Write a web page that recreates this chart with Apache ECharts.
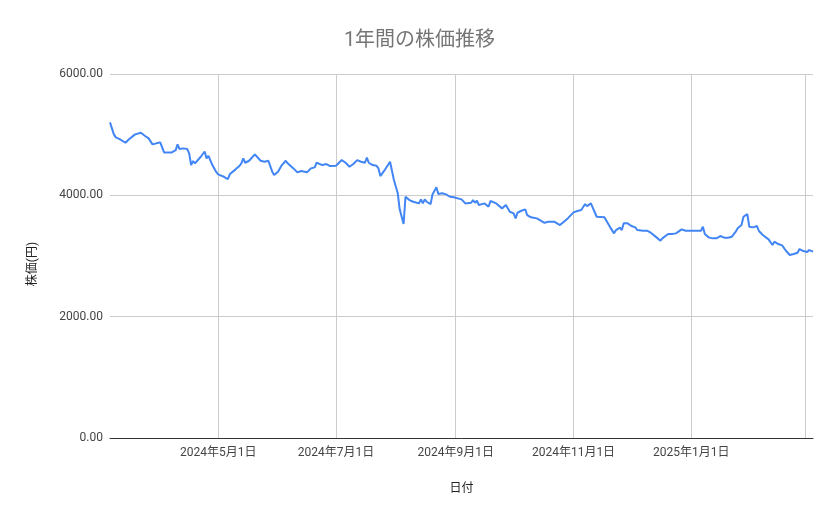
<!DOCTYPE html>
<html>
<head>
<meta charset="utf-8">
<script src="https://cdn.jsdelivr.net/npm/echarts@6/dist/echarts.min.js"></script>
<style>
html,body{margin:0;padding:0;background:#fff;}
#chart{width:839px;height:519px;}
</style>
</head>
<body>
<div id="chart"></div>
<script>
const dates = [
'2024-03-06','2024-03-07','2024-03-08','2024-03-09','2024-03-11','2024-03-12','2024-03-14','2024-03-16','2024-03-19','2024-03-20',
'2024-03-22','2024-03-24','2024-03-26','2024-03-27','2024-03-28','2024-03-30','2024-04-01','2024-04-03','2024-04-04','2024-04-07',
'2024-04-09','2024-04-10','2024-04-11','2024-04-13','2024-04-15','2024-04-16','2024-04-17','2024-04-18','2024-04-19','2024-04-22',
'2024-04-24','2024-04-25','2024-04-26','2024-04-28','2024-04-30','2024-05-01','2024-05-02','2024-05-04','2024-05-06','2024-05-07',
'2024-05-08','2024-05-10','2024-05-12','2024-05-13','2024-05-14','2024-05-15','2024-05-17','2024-05-20','2024-05-21','2024-05-23',
'2024-05-25','2024-05-27','2024-05-29','2024-05-30','2024-06-01','2024-06-03','2024-06-05','2024-06-06','2024-06-07','2024-06-09',
'2024-06-11','2024-06-13','2024-06-14','2024-06-16','2024-06-18','2024-06-20','2024-06-21','2024-06-22','2024-06-24','2024-06-26',
'2024-06-28','2024-07-01','2024-07-02','2024-07-04','2024-07-06','2024-07-08','2024-07-10','2024-07-12','2024-07-14','2024-07-16',
'2024-07-17','2024-07-18','2024-07-20','2024-07-22','2024-07-23','2024-07-24','2024-07-26','2024-07-29','2024-07-30','2024-07-31',
'2024-08-02','2024-08-03','2024-08-05','2024-08-06','2024-08-08','2024-08-10','2024-08-13','2024-08-14','2024-08-15','2024-08-16',
'2024-08-17','2024-08-19','2024-08-20','2024-08-21','2024-08-22','2024-08-23','2024-08-25','2024-08-27','2024-08-29','2024-08-31',
'2024-09-01','2024-09-04','2024-09-06','2024-09-09','2024-09-10','2024-09-11','2024-09-12','2024-09-13','2024-09-16','2024-09-17',
'2024-09-18','2024-09-19','2024-09-22','2024-09-25','2024-09-27','2024-09-29','2024-10-01','2024-10-02','2024-10-03','2024-10-05',
'2024-10-07','2024-10-08','2024-10-10','2024-10-13','2024-10-14','2024-10-17','2024-10-19','2024-10-20','2024-10-22','2024-10-23',
'2024-10-25','2024-10-27','2024-10-29','2024-11-01','2024-11-03','2024-11-05','2024-11-06','2024-11-07','2024-11-08','2024-11-10',
'2024-11-11','2024-11-13','2024-11-14','2024-11-17','2024-11-19','2024-11-20','2024-11-22','2024-11-23','2024-11-25','2024-11-26',
'2024-11-27','2024-11-29','2024-12-01','2024-12-03','2024-12-04','2024-12-07','2024-12-09','2024-12-11','2024-12-14','2024-12-16',
'2024-12-17','2024-12-20','2024-12-22','2024-12-24','2024-12-25','2024-12-27','2024-12-29','2025-01-01','2025-01-04','2025-01-06',
'2025-01-07','2025-01-08','2025-01-10','2025-01-12','2025-01-14','2025-01-16','2025-01-18','2025-01-20','2025-01-22','2025-01-23',
'2025-01-24','2025-01-25','2025-01-27','2025-01-28','2025-01-29','2025-01-30','2025-01-31','2025-02-02','2025-02-03','2025-02-04',
'2025-02-05','2025-02-07','2025-02-10','2025-02-12','2025-02-13','2025-02-15','2025-02-17','2025-02-18','2025-02-19','2025-02-21',
'2025-02-23','2025-02-25','2025-02-26','2025-02-28','2025-03-02','2025-03-03','2025-03-05'
];
const prices = [
5203,5104,5005,4955,4927,4939,4867,4927,5005,4982,
5032,4982,4939,4927,4840,4857,4873,4708,4692,4708,
4746,4840,4763,4774,4763,4692,4499,4565,4527,4636,
4723,4609,4652,4499,4385,4346,4318,4306,4268,4346,
4318,4428,4483,4527,4609,4537,4570,4675,4648,4570,
4554,4570,4390,4334,4390,4499,4570,4527,4554,4444,
4379,4400,4390,4379,4444,4461,4537,4516,4499,4516,
4483,4488,4499,4581,4537,4472,4516,4581,4554,4537,
4620,4537,4499,4488,4444,4318,4406,4554,4537,4252,
4033,3769,3527,3977,3922,3894,3867,3933,3867,3933,
3894,3856,4016,4043,4132,4021,4033,4016,3977,3967,
3939,3933,3867,3878,3922,3878,3911,3840,3867,3878,
3812,3906,3867,3785,3840,3730,3702,3620,3713,3746,
3768,3675,3637,3620,3637,3548,3565,3593,3565,3593,
3510,3565,3620,3719,3741,3757,3730,3856,3823,3867,
3894,3647,3620,3637,3527,3472,3373,3428,3467,3428,
3538,3538,3494,3472,3428,3417,3417,3384,3307,3252,
3291,3362,3362,3373,3384,3439,3417,3417,3417,3417,
3483,3362,3307,3291,3291,3329,3302,3302,3318,3291,
3401,3456,3510,3647,3675,3691,3483,3472,3483,3494,
3412,3346,3274,3181,3236,3197,3175,3153,3087,3016,
3032,3054,3115,3082,3065,3098,3071
];
const gridDates = ['2024-05-01','2024-07-01','2024-09-01','2024-11-01','2025-01-01','2025-03-01'];
const labelDates = ['2024-05-01','2024-07-01','2024-09-01','2024-11-01','2025-01-01'];
const tickLabels = ['2024年5月1日','2024年7月1日','2024年9月1日','2024年11月1日','2025年1月1日'];
const yTicks = [0, 2000, 4000, 6000];

function ts(s){ const p = s.split('-').map(Number); return Date.UTC(p[0], p[1]-1, p[2]); }
const gridTs = gridDates.map(ts);
const labelTs = labelDates.map(ts);

const FONT = 'Roboto, "Noto Sans CJK JP", sans-serif';
const chart = echarts.init(document.getElementById('chart'));
chart.setOption({
  animation: false,
  textStyle: { fontFamily: FONT },
  title: {
    text: '1年間の株価推移',
    left: 'center',
    top: 26,
    textStyle: { fontFamily: FONT, fontSize: 20, fontWeight: 'normal', color: '#757575' }
  },
  grid: { left: 110, right: 26, top: 74, bottom: 81, containLabel: false },
  xAxis: {
    type: 'value',
    min: ts(dates[0]),
    max: ts(dates[dates.length-1]),
    name: '日付',
    nameLocation: 'middle',
    nameGap: 45,
    nameTextStyle: { fontFamily: FONT, fontSize: 12, color: '#222' },
    axisLine: { show: true, onZero: false, lineStyle: { color: '#333', width: 1 } },
    axisTick: { show: false, customValues: gridTs },
    splitLine: { show: true, lineStyle: { color: '#cccccc', width: 1 } },
    axisLabel: {
      customValues: labelTs,
      margin: 9,
      fontFamily: FONT, fontSize: 12, color: '#444',
      formatter: function(v){ const i = labelTs.indexOf(v); return i >= 0 ? tickLabels[i] : ''; }
    }
  },
  yAxis: {
    type: 'value',
    min: yTicks[0],
    max: yTicks[yTicks.length-1],
    interval: 2000,
    name: '株価(円)',
    nameLocation: 'middle',
    nameGap: 71,
    nameTextStyle: { fontFamily: FONT, fontSize: 12, color: '#222', padding: [0, 16, 0, 0] },
    axisLine: { show: false },
    axisTick: { show: false },
    splitLine: { show: true, lineStyle: { color: '#cccccc', width: 1 } },
    axisLabel: {
      margin: 7,
      fontFamily: FONT, fontSize: 12, color: '#444',
      formatter: function(v){ return v.toFixed(2); }
    }
  },
  series: [{
    type: 'line',
    data: dates.map((d,i) => [ts(d), prices[i]]),
    showSymbol: false,
    symbol: 'none',
    lineStyle: { color: '#4285F4', width: 2 },
    itemStyle: { color: '#4285F4' }
  }]
});
</script>
</body>
</html>
